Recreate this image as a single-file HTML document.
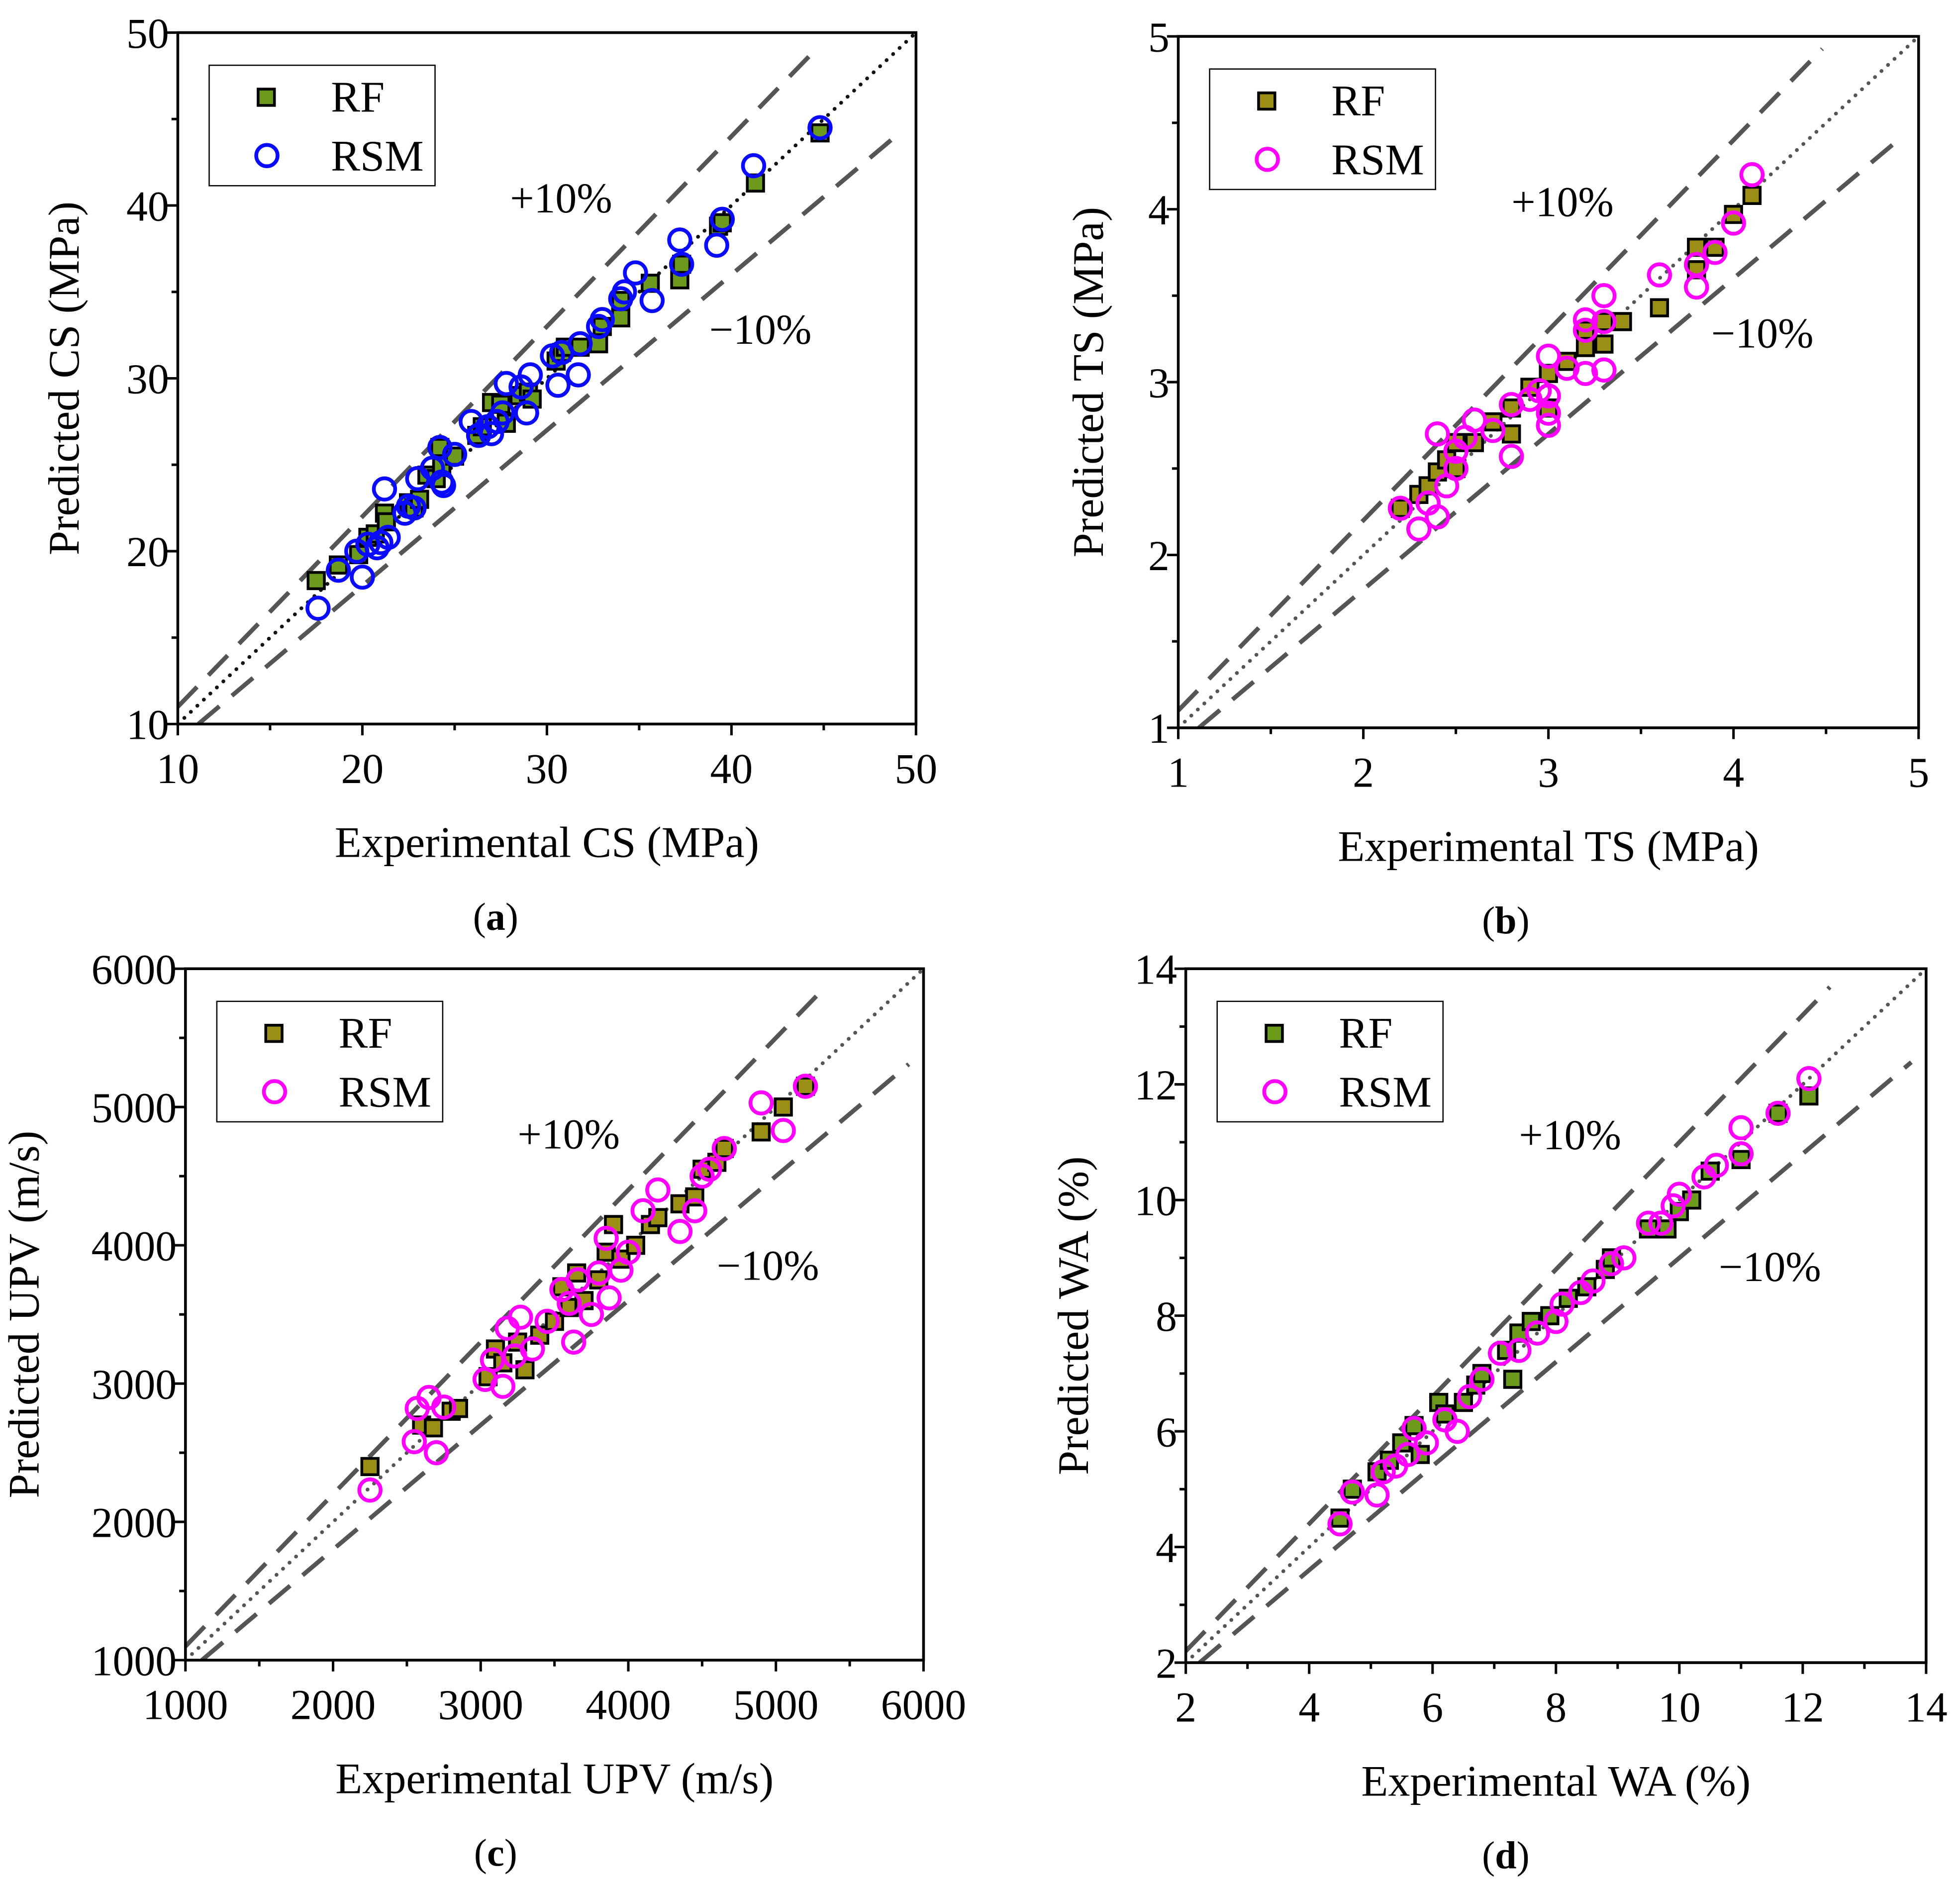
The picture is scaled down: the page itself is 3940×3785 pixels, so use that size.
<!DOCTYPE html>
<html><head><meta charset="utf-8">
<style>
html,body{margin:0;padding:0;background:#fff;}
svg{display:block;}
svg text{font-family:"Times New Roman","Liberation Serif","DejaVu Serif",serif;fill:#000;}
</style></head>
<body>
<svg id="fig" width="3940" height="3785" viewBox="0 0 1562 1500.6" preserveAspectRatio="none" xmlns="http://www.w3.org/2000/svg"></svg>
<script>
// ---- Panel (a): CS ----
const csRFx=[17.5,18.7,19.8,20.3,20.7,21.2,21.3,22.5,22.8,23.1,23.5,24,24.2,24.3,25,26.2,26.5,27,27.5,27.8,28.5,29,29.2,30.5,30.8,31,31.8,32.8,33,34,34,35.6,37.2,37.3,39.3,39.5,41.3,44.8];
const csRFy=[18.3,19.2,19.8,20.8,21,22.2,21.7,22.8,22.5,23,24.4,24.2,26,25,25.5,26.7,27.2,28.6,28.5,27.4,29,29.2,28.8,31,31.5,31.8,31.8,32,33,33.5,34.5,35.5,35.7,36.6,38.8,39,41.3,44.2];
const csRSMx=[17.6,18.7,19.7,20.0,20.3,20.8,21.0,21.2,21.4,22.3,22.5,22.8,23,23.8,24.2,24.3,24.4,25,25.9,26.3,26.8,27,27.3,27.6,27.8,28.6,28.9,29.1,30.3,30.6,30.8,31.7,31.8,32.8,33,34,34.2,34.8,35.7,37.2,37.3,39.2,39.5,41.2,44.8];
const csRSMy=[16.7,18.9,20,18.5,20.4,20.2,20.5,23.6,20.8,22.2,22.6,22.5,24.2,24.8,26,24,23.8,25.6,27.5,26.7,27.2,26.8,27.5,28,29.7,29.5,28,30.2,31.3,29.6,31.5,30.2,32,33,33.4,34.6,35,36.1,34.5,38,36.6,37.7,39.2,42.3,44.5];
const csTicks=[10,20,30,40,50];
// ---- Panel (b): TS ----
const tsRFx=[2.2,2.3,2.35,2.4,2.45,2.5,2.5,2.6,2.7,2.8,2.8,2.9,3.0,3.0,3.1,3.2,3.2,3.3,3.3,3.4,3.6,3.8,3.8,3.9,4.0,4.1];
const tsRFy=[2.27,2.35,2.4,2.48,2.55,2.65,2.5,2.65,2.77,2.85,2.7,2.97,3.05,2.85,3.12,3.2,3.3,3.35,3.22,3.35,3.43,3.78,3.65,3.78,3.97,4.08];
const tsRSMx=[2.2,2.3,2.35,2.4,2.4,2.45,2.5,2.5,2.55,2.6,2.7,2.8,2.8,2.9,2.95,3.0,3.0,3.0,3.0,3.1,3.2,3.2,3.2,3.3,3.3,3.3,3.6,3.8,3.8,3.9,4.0,4.1];
const tsRSMy=[2.27,2.15,2.3,2.7,2.22,2.4,2.5,2.6,2.68,2.78,2.72,2.87,2.57,2.9,2.95,3.15,2.75,2.82,2.92,3.08,3.36,3.3,3.05,3.5,3.35,3.07,3.62,3.68,3.55,3.75,3.92,4.2];
const tsTicks=[1,2,3,4,5];
// ---- Panel (c): UPV ----
const upvRFx=[2250,2600,2680,2800,2850,3050,3100,3150,3250,3300,3400,3500,3550,3600,3650,3700,3800,3850,3900,3950,4050,4150,4200,4350,4450,4500,4600,4650,4900,5050,5200];
const upvRFy=[2400,2700,2680,2800,2820,3050,3250,3150,3300,3100,3350,3450,3700,3550,3800,3600,3750,3950,4150,3900,4000,4150,4200,4300,4350,4550,4600,4700,4820,5000,5150];
const upvRSMx=[2250,2550,2570,2650,2700,2750,3030,3080,3150,3180,3230,3270,3350,3450,3550,3600,3630,3660,3750,3800,3850,3870,3950,4000,4100,4200,4350,4450,4500,4550,4650,4900,5050,5200];
const upvRSMy=[2230,2580,2820,2900,2500,2830,3030,3170,2980,3400,3200,3480,3250,3450,3680,3580,3300,3750,3500,3800,4050,3620,3820,3950,4250,4400,4100,4250,4500,4550,4700,5030,4830,5150];
const upvTicks=[1000,2000,3000,4000,5000,6000];
// ---- Panel (d): WA ----
const waRFx=[4.5,4.7,5.1,5.3,5.5,5.7,5.8,6.1,6.2,6.5,6.7,6.8,7.2,7.3,7.4,7.6,7.9,8.2,8.5,8.8,8.9,9.5,9.8,10.0,10.2,10.5,11.0,11.6,12.1];
const waRFy=[4.5,5.0,5.3,5.5,5.8,6.1,5.6,6.5,6.3,6.5,6.8,7.0,7.4,6.9,7.7,7.9,8.0,8.3,8.5,8.8,9.0,9.5,9.5,9.8,10.0,10.5,10.7,11.5,11.8];
const waRSMx=[4.5,4.7,5.1,5.2,5.4,5.6,5.7,5.9,6.2,6.4,6.6,6.8,7.1,7.4,7.7,8.0,8.1,8.4,8.6,8.9,9.1,9.5,9.7,9.9,10.0,10.4,10.6,11.0,11.0,11.6,12.1];
const waRSMy=[4.4,4.95,4.9,5.3,5.4,5.6,6.05,5.8,6.2,6.0,6.6,6.9,7.35,7.4,7.7,7.9,8.2,8.4,8.6,8.9,9.0,9.6,9.6,9.9,10.1,10.4,10.6,11.25,10.8,11.5,12.1];
const waTicks=[2,4,6,8,10,12,14];

const NS="http://www.w3.org/2000/svg";
const svg=document.getElementById('fig');
function mk(tag,attrs,parent){const e=document.createElementNS(NS,tag);for(const k in attrs)e.setAttribute(k,attrs[k]);(parent||svg).appendChild(e);return e;}

function panel(o){
  const g=mk('g',{});
  
  
  const lo=o.ticks[0],hi=o.ticks[o.ticks.length-1];
  const sx=v=>o.L+(v-lo)/(hi-lo)*(o.R-o.L);
  const sy=v=>o.B-(v-lo)/(hi-lo)*(o.B-o.T);
  const cid='clip'+o.id;
  const cp=mk('clipPath',{id:cid},g);mk('rect',{x:o.L,y:o.T,width:o.R-o.L,height:o.B-o.T},cp);
  const pg=mk('g',{'clip-path':'url(#'+cid+')'},g);
  const d1=mk('line',{x1:sx(lo),y1:sy(lo),x2:sx(hi),y2:sy(hi),stroke:o.dotc,"stroke-width":3,"stroke-dasharray":"0.1 7","stroke-linecap":"round"},pg);
  
  const span=hi-lo;
  const up=mk('line',{x1:sx(lo),y1:sy(lo*1.1),x2:sx(lo+span*0.87),y2:sy((lo+span*0.87)*1.1),stroke:'#555',"stroke-width":3.5,"stroke-dasharray":"22 13"},pg);
  
  const dn=mk('line',{x1:sx(lo/0.9),y1:sy(lo),x2:sx(lo+span*0.98),y2:sy((lo+span*0.98)*0.9),stroke:'#555',"stroke-width":3.5,"stroke-dasharray":"22 13"},pg);
  
  o.rfx.forEach((x,i)=>{const r=mk('rect',{x:sx(x)-6.5,y:sy(o.rfy[i])-6.5,width:13,height:13,fill:o.rfc,stroke:'#000',"stroke-width":2.2},pg);
    });
  o.rsx.forEach((x,i)=>{const c=mk('circle',{cx:sx(x),cy:sy(o.rsy[i]),r:8.5,fill:'none',stroke:o.rsc,"stroke-width":3},pg);
    });
  const fr=mk('rect',{x:o.L,y:o.T,width:o.R-o.L,height:o.B-o.T,fill:'none',stroke:'#000',"stroke-width":2.2},g);
  
  o.ticks.forEach((t,i)=>{
    mk('line',{x1:sx(t),y1:o.B,x2:sx(t),y2:o.B+9,stroke:'#000',"stroke-width":2},g);
    mk('line',{x1:o.L,y1:sy(t),x2:o.L-9,y2:sy(t),stroke:'#000',"stroke-width":2},g);
    if(i<o.ticks.length-1){const m=(t+o.ticks[i+1])/2;
      mk('line',{x1:sx(m),y1:o.B,x2:sx(m),y2:o.B+5,stroke:'#000',"stroke-width":2},g);
      mk('line',{x1:o.L,y1:sy(m),x2:o.L-5,y2:sy(m),stroke:'#000',"stroke-width":2},g);}
    const xl=mk('text',{x:sx(t),y:o.B+47,"text-anchor":"middle","font-size":34},g);xl.textContent=t;
    
    const yl=mk('text',{x:o.L-7,y:sy(t)+12,"text-anchor":"end","font-size":34},g);yl.textContent=t;
    
  });
  const xt=mk('text',{x:(o.L+o.R)/2,y:o.B+106,"text-anchor":"middle","font-size":35},g);xt.textContent=o.xt;
  
  const ytx=o.L-o.yoff, yty=(o.T+o.B)/2;
  const yt=mk('text',{x:ytx,y:yty,"text-anchor":"middle","font-size":35,transform:`rotate(-90 ${ytx} ${yty})`},g);yt.textContent=o.yt;
  
  const cap=mk('text',{x:o.capx,y:o.B+164,"text-anchor":"middle","font-size":31},g);
  cap.innerHTML='(<tspan font-weight="bold">'+o.id+'</tspan>)';
  
  const p1=mk('text',{x:o.L+(o.R-o.L)*0.45,y:o.T+(o.B-o.T)*0.26,"font-size":34},g);p1.textContent='+10%';
  
  const m1=mk('text',{x:o.L+(o.R-o.L)*0.72,y:o.T+(o.B-o.T)*0.45,"font-size":34},g);m1.textContent='\u221210%';
  
  const lg=mk('g',{},g);
  mk('rect',{x:o.L+25,y:o.T+26,width:180,height:96,fill:'#fff',stroke:'#000',"stroke-width":1},lg);
  mk('rect',{x:o.L+64,y:o.T+45,width:13,height:13,fill:o.rfc,stroke:'#000',"stroke-width":2.2},lg);
  mk('circle',{cx:o.L+71,cy:o.T+98,r:8.5,fill:'none',stroke:o.rsc,"stroke-width":3},lg);
  const t1=mk('text',{x:o.L+122,y:o.T+63,"font-size":35},lg);t1.textContent='RF';
  
  const t2=mk('text',{x:o.L+122,y:o.T+110,"font-size":35},lg);t2.textContent='RSM';
  
}
panel({id:'a',L:141.7,R:730,T:26,B:577,ticks:csTicks,rfx:csRFx,rfy:csRFy,rsx:csRSMx,rsy:csRSMy,rfc:'#6b9a1c',rsc:'#0a0aff',dotc:'#111',xt:'Experimental CS (MPa)',yt:'Predicted CS (MPa)',yoff:79,capx:395});
panel({id:'b',L:939,R:1529,T:29,B:580,ticks:tsTicks,rfx:tsRFx,rfy:tsRFy,rsx:tsRSMx,rsy:tsRSMy,rfc:'#9a8f14',rsc:'#ff00ff',dotc:'#555',xt:'Experimental TS (MPa)',yt:'Predicted TS (MPa)',yoff:60,capx:1200});
panel({id:'c',L:147.8,R:736,T:772,B:1323,ticks:upvTicks,rfx:upvRFx,rfy:upvRFy,rsx:upvRSMx,rsy:upvRSMy,rfc:'#9a8f14',rsc:'#ff00ff',dotc:'#555',xt:'Experimental UPV (m/s)',yt:'Predicted UPV (m/s)',yoff:117,capx:395});
panel({id:'d',L:945,R:1535,T:772,B:1325,ticks:waTicks,rfx:waRFx,rfy:waRFy,rsx:waRSMx,rsy:waRSMy,rfc:'#6b9a1c',rsc:'#ff00ff',dotc:'#555',xt:'Experimental WA (%)',yt:'Predicted WA (%)',yoff:78,capx:1200});
</script>
</body></html>
